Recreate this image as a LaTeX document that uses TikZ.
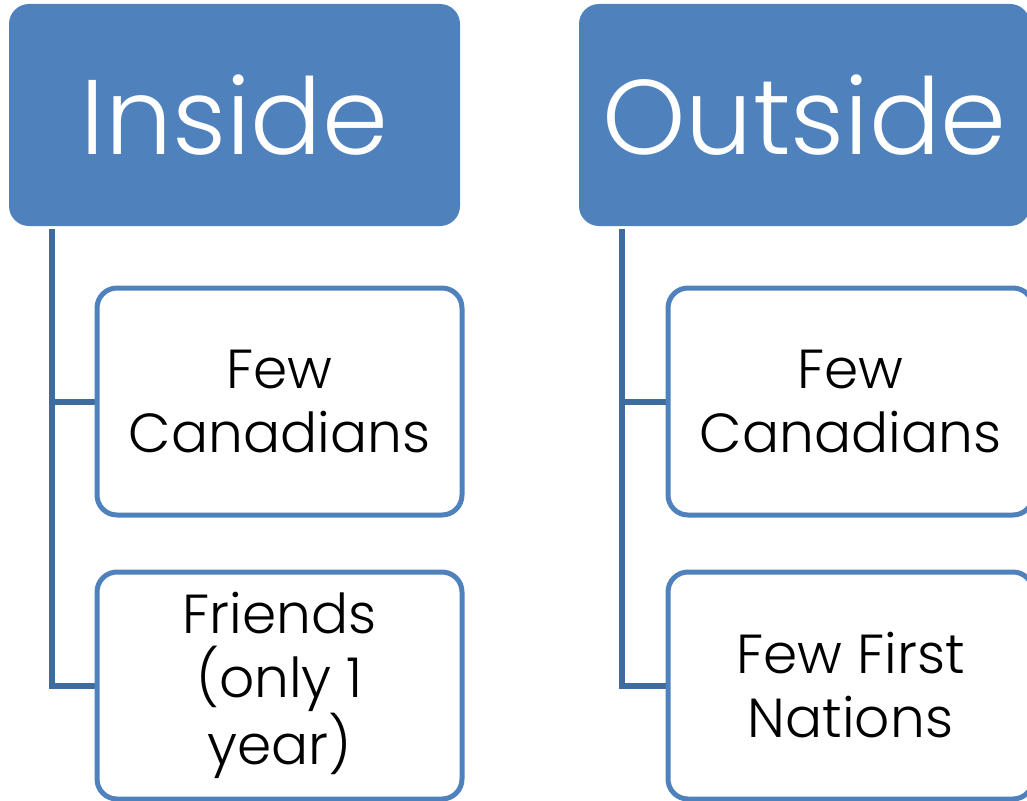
\documentclass[tikz,border=0pt]{standalone}
\usepackage{fontspec}
\setmainfont{Poppins Light}
\definecolor{headblue}{HTML}{4F81BD}
\definecolor{linkblue}{HTML}{3F6C9E}

\begin{document}
\begin{tikzpicture}[
        x=1pt, y=-1pt,
        head/.style={fill=headblue, rounded corners=20pt, minimum width=451pt, minimum height=222pt, inner sep=0pt, text=white, text depth=0pt, font=\fontsize{106}{120}\selectfont},
        item/.style={draw=headblue, line width=5pt, fill=white, rounded corners=20pt, minimum width=365pt, minimum height=227pt, inner sep=0pt, align=center, font=\fontsize{55}{64}\selectfont},
        link/.style={draw=linkblue, line width=6pt}
    ]
        \useasboundingbox (0,0) rectangle (1027,800);
        \clip (0,0) rectangle (1027,800);

        % Header nodes
        \node[head] (inHead) at (234.5,115) {Inside};
        \node[head] (outHead) at (804.5,115) {Outside};

        % Spine start points
        \coordinate (inTop) at ([xshift=43pt, yshift=-3pt]inHead.south west);
        \coordinate (outTop) at ([xshift=43pt, yshift=-3pt]outHead.south west);

        % Connect nodes
        \draw[link] (inTop) |- (279.5,401.5);
        \draw[link] (inTop) |- (279.5,685.5);
        \draw[link] (outTop) |- (850.5,401.5);
        \draw[link] (outTop) |- (850.5,685.5);

        % Child nodes
        \node[item] (inA) at (279.5,401.5) {Few\\Canadians};
        \node[item] (inB) at (279.5,685.5) {Friends\\(only 1\\year)};
        \node[item] (outA) at (850.5,401.5) {Few\\Canadians};
        \node[item] (outB) at (850.5,685.5) {Few First\\Nations};
    \end{tikzpicture}
\end{document}
